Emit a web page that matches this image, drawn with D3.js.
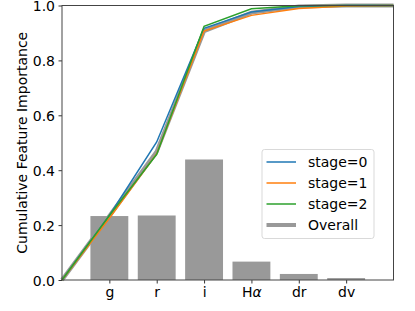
<!DOCTYPE html>
<html>
<head>
<meta charset="utf-8">
<script src="https://cdn.jsdelivr.net/npm/d3@7"></script>
<style>
  body { margin: 0; background: #fff; }
  text { font-family: "DejaVu Sans", sans-serif; }
</style>
</head>
<body>
<svg id="chart" width="415" height="311"></svg>
<script>
const features = ['g', 'r', 'i', 'Hα', 'dr', 'dv'];
const overallImportance = [0.233, 0.235, 0.439, 0.067, 0.022, 0.007];

// cumulative curves, index 0 = before first feature, last = right edge
const stage0 = [0, 0.235, 0.503, 0.917, 0.976, 0.996, 1.0, 1.0];
const stage1 = [0, 0.225, 0.46, 0.907, 0.964, 0.989, 0.998, 1.0];
const stage2 = [0, 0.235, 0.458, 0.924, 0.988, 0.999, 1.0, 1.0];
const overallCum = [0, 0.233, 0.468, 0.907, 0.974, 0.996, 1.0, 1.0];

const yTicks = [0, 0.2, 0.4, 0.6, 0.8, 1.0];

const series = [
    {name: 'stage=0', values: stage0, color: '#1f77b4'},
    {name: 'stage=1', values: stage1, color: '#ff7f0e'},
    {name: 'stage=2', values: stage2, color: '#2ca02c'}
];

const margin = {left: 62, right: 21.5, top: 5.5, bottom: 31};
const W = 415, H = 311;
const fs = 14;

const svg = d3.select('#chart');

const xScale = d3.scaleLinear()
    .domain([0, 7])
    .range([margin.left, W - margin.right]);
const yScale = d3.scaleLinear()
    .domain([0, 1])
    .range([H - margin.bottom, margin.top]);

const unit = xScale(1) - xScale(0);
const barW = unit * 0.8;

// bars
svg.append('g').selectAll('rect')
    .data(overallImportance)
    .join('rect')
    .attr('x', (d, i) => xScale(i + 1) - barW / 2)
    .attr('y', d => yScale(d))
    .attr('width', barW)
    .attr('height', d => yScale(0) - yScale(d))
    .attr('fill', '#999999');

const line = d3.line()
    .x((d, i) => xScale(i))
    .y(d => yScale(d));

const plotG = svg.append('g');
plotG.append('path')
    .datum(overallCum)
    .attr('d', line)
    .attr('fill', 'none')
    .attr('stroke', '#999999')
    .attr('stroke-width', 4);

series.forEach(s => {
    plotG.append('path')
        .datum(s.values)
        .attr('d', line)
        .attr('fill', 'none')
        .attr('stroke', s.color)
        .attr('stroke-width', 1.5);
});

// axes
const xAxis = d3.axisBottom(xScale)
    .tickValues(d3.range(1, features.length + 1))
    .tickFormat(d => features[d - 1])
    .tickSize(3.5)
    .tickPadding(3.5);
const yAxis = d3.axisLeft(yScale)
    .tickValues(yTicks)
    .tickFormat(d3.format('.1f'))
    .tickSize(3.5)
    .tickPadding(3.5);

const gx = svg.append('g')
    .attr('transform', `translate(0,${yScale(0)})`)
    .call(xAxis);
const gy = svg.append('g')
    .attr('transform', `translate(${margin.left},0)`)
    .call(yAxis);

[gx, gy].forEach(g => {
    g.select('.domain').remove();
    g.selectAll('.tick line').attr('stroke', '#000').attr('stroke-width', 0.8);
    g.selectAll('.tick text')
        .attr('font-size', fs)
        .attr('fill', '#000')
        .style('font-family', '"DejaVu Sans", sans-serif');
});
gy.selectAll('.tick text').attr('dy', '0.36em');

// italic alpha for H-alpha
gx.selectAll('.tick text').each(function(d) {
    const label = features[d - 1];
    if (label === 'Hα') {
        const t = d3.select(this).text('');
        t.append('tspan').text('H');
        t.append('tspan').attr('font-style', 'italic').text('α');
    }
});

// frame
svg.append('rect')
    .attr('x', xScale(0))
    .attr('y', yScale(1))
    .attr('width', xScale(7) - xScale(0))
    .attr('height', yScale(0) - yScale(1))
    .attr('fill', 'none')
    .attr('stroke', '#444')
    .attr('stroke-width', 1);

// y label
svg.append('text')
    .attr('transform', `translate(27,${(yScale(0) + yScale(1)) / 2}) rotate(-90)`)
    .attr('text-anchor', 'middle')
    .attr('font-size', fs)
    .text('Cumulative Feature Importance');

// legend
const legend = svg.append('g').attr('transform', 'translate(262,149.5)');
legend.append('rect')
    .attr('width', 112)
    .attr('height', 89)
    .attr('rx', 2.5)
    .attr('fill', '#fff')
    .attr('fill-opacity', 0.8)
    .attr('stroke', '#d9d9d9')
    .attr('stroke-width', 1);

const legendItems = series.map(s => ({name: s.name, color: s.color, width: 1.5}))
    .concat([{name: 'Overall', color: '#999999', width: 4}]);

legendItems.forEach((item, i) => {
    const yy = 12.5 + i * 21;
    legend.append('line')
        .attr('x1', 4.5).attr('x2', 34)
        .attr('y1', yy).attr('y2', yy)
        .attr('stroke', item.color)
        .attr('stroke-width', item.width);
    legend.append('text')
        .attr('x', 46)
        .attr('y', yy)
        .attr('dy', '0.36em')
        .attr('font-size', fs)
        .text(item.name);
});
</script>
</body>
</html>
